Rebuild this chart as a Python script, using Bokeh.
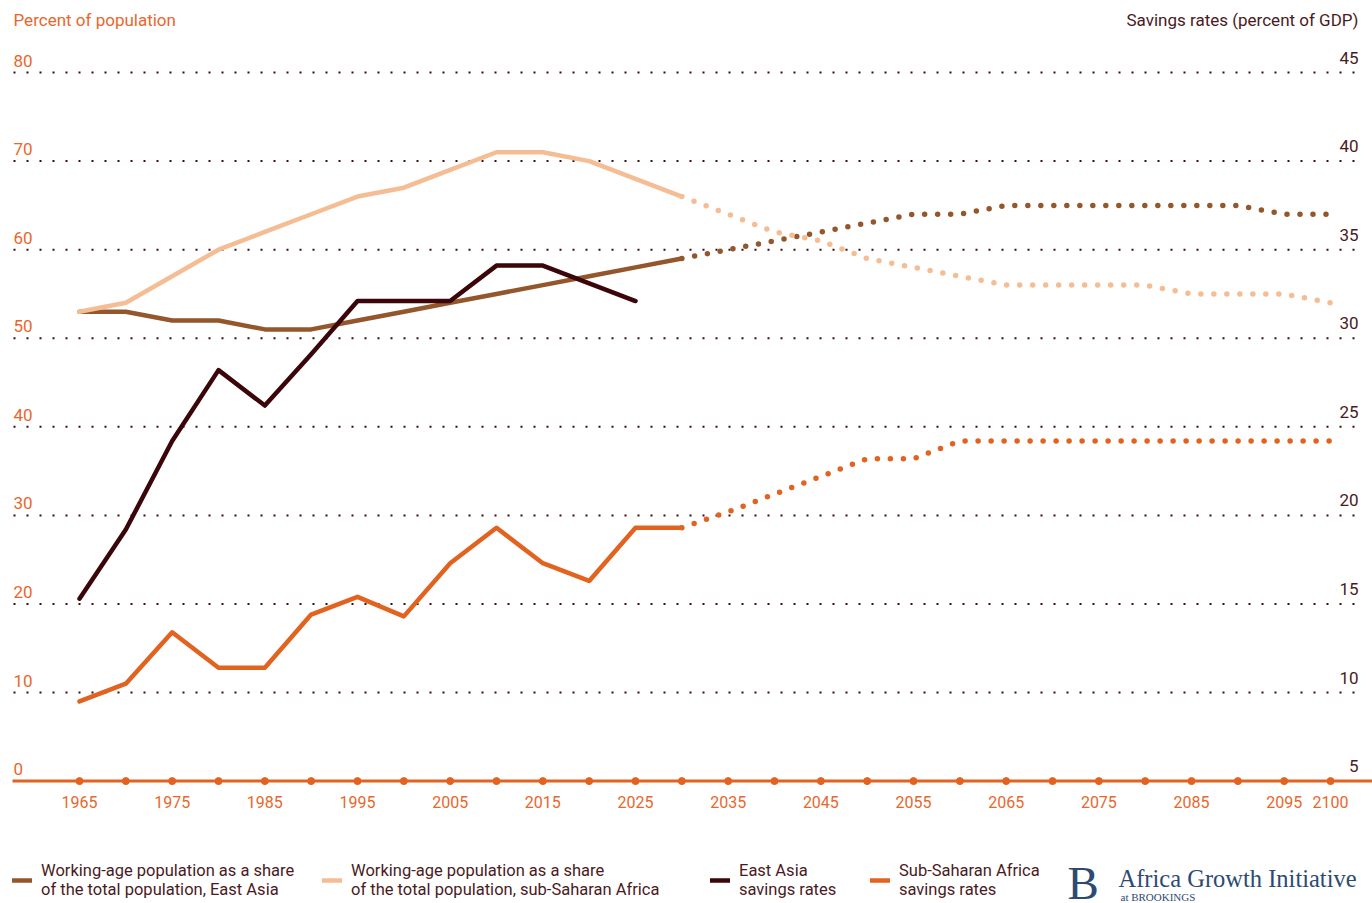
from bokeh.plotting import figure
from bokeh.models import (Range1d, Legend, LegendItem, Label)
from bokeh.core.properties import value
from bokeh.embed import file_html
from bokeh.resources import INLINE

# ---------------- data ----------------
years_hist = [1965, 1970, 1975, 1980, 1985, 1990, 1995, 2000, 2005, 2010, 2015, 2020, 2025, 2030]
ea_working_age = [53, 53, 52, 52, 51, 51, 52, 53, 54, 55, 56, 57, 58, 59]
ssa_working_age = [53, 54, 57, 60, 62, 64, 66, 67, 69, 71, 71, 70, 68, 66]
ssa_savings = [9.5, 10.5, 13.4, 11.4, 11.4, 14.4, 15.4, 14.3, 17.3, 19.3, 17.3, 16.3, 19.3, 19.3]

years_ea_savings = [1965, 1970, 1975, 1980, 1985, 1990, 1995, 2000, 2005, 2010, 2015, 2020, 2025]
ea_savings = [15.3, 19.2, 24.2, 28.2, 26.2, 29.1, 32.1, 32.1, 32.1, 34.1, 34.1, 33.1, 32.1]

years_proj = [2030, 2035, 2040, 2045, 2050, 2055, 2060, 2065, 2070, 2075, 2080, 2085, 2090, 2095, 2100]
ea_working_age_proj = [59, 60, 61, 62, 63, 64, 64, 65, 65, 65, 65, 65, 65, 64, 64]
ssa_working_age_proj = [66, 64, 62, 61, 59, 58, 57, 56, 56, 56, 56, 55, 55, 55, 54]
ssa_savings_proj = [19.3, 20.2, 21.2, 22.2, 23.2, 23.2, 24.2, 24.2, 24.2, 24.2, 24.2, 24.2, 24.2, 24.2, 24.2]

x_tick_labels = [1965, 1975, 1985, 1995, 2005, 2015, 2025, 2035, 2045, 2055, 2065, 2075, 2085, 2095, 2100]
x_tick_dots = list(range(1965, 2101, 5))
left_ticks = [0, 10, 20, 30, 40, 50, 60, 70, 80]
right_ticks = [5, 10, 15, 20, 25, 30, 35, 40, 45]

legend_labels = [
    "Working-age population as a share\nof the total population, East Asia",
    "Working-age population as a share\nof the total population, sub-Saharan Africa",
    "East Asia\nsavings rates",
    "Sub-Saharan Africa\nsavings rates",
]

# ---------------- styling ----------------
C_EA_WA = "#93572b"
C_SSA_WA = "#f5bd94"
C_EA_SAV = "#3b0609"
C_SSA_SAV = "#e2621f"
C_ORANGE_TXT = "#e8672c"
C_DARK_TXT = "#4a1a22"
C_GRID = "#3a0d12"
C_LOGO = "#2d4a70"
FONT = "Roboto"

W, H = 1372, 903
# page-pixel calibration of the scales
PX_PER_YEAR = 9.267
X_1965_PX = 79
PX_PER_UNIT = 8.857
Y_ZERO_PX = 780.6
X0 = 1965 - X_1965_PX / PX_PER_YEAR
X1 = 1965 + (W - X_1965_PX) / PX_PER_YEAR
Y0 = -(H - Y_ZERO_PX) / PX_PER_UNIT
Y1 = Y_ZERO_PX / PX_PER_UNIT

def px_x(px):
    return X0 + px / PX_PER_YEAR
def px_y(py):
    return Y1 - py / PX_PER_UNIT

p = figure(width=W, height=H, output_backend="svg", toolbar_location=None,
           x_range=Range1d(X0, X1), y_range=Range1d(Y0, Y1),
           min_border=0, min_border_left=0, min_border_right=0,
           min_border_top=0, min_border_bottom=0)
p.extra_y_ranges = {"sav": Range1d(Y0 / 2 + 5, Y1 / 2 + 5)}
p.outline_line_color = None
p.background_fill_color = "white"
p.border_fill_color = "white"
p.xaxis.visible = False
p.yaxis.visible = False
p.grid.visible = False

# dotted horizontal gridlines
grid_vals = left_ticks[1:]
p.segment(x0=[px_x(13)] * len(grid_vals), x1=[px_x(1356)] * len(grid_vals),
          y0=grid_vals, y1=grid_vals, line_color=C_GRID, line_width=2, line_dash="2 11")

# baseline axis line with dots
p.segment(x0=[px_x(12)], x1=[X1], y0=[0], y1=[0], line_color=C_SSA_SAV, line_width=3)
p.scatter(x=x_tick_dots, y=[0] * len(x_tick_dots), size=7, color=C_SSA_SAV)

# x tick labels
p.text(x=x_tick_labels, y=[0] * len(x_tick_labels), text=[str(t) for t in x_tick_labels],
       y_offset=21, text_font=value(FONT), text_font_size="16px", text_color=C_ORANGE_TXT,
       text_align="center", text_baseline="middle")

# y tick labels inside the plot
p.text(x=[X0] * len(left_ticks), y=left_ticks, text=[str(t) for t in left_ticks],
       x_offset=13, y_offset=-12, text_font=value(FONT), text_font_size="17px",
       text_color=C_ORANGE_TXT, text_align="left", text_baseline="alphabetic")
p.text(x=[X1] * len(right_ticks), y=right_ticks, text=[str(t) for t in right_ticks],
       y_range_name="sav", x_offset=-14, y_offset=-15, text_font=value(FONT),
       text_font_size="17px", text_color=C_DARK_TXT, text_align="right",
       text_baseline="alphabetic")

# series
r_ea_wa = p.line(years_hist, ea_working_age, line_color=C_EA_WA, line_width=4.5, line_cap="round", line_join="round")
r_ssa_wa = p.line(years_hist, ssa_working_age, line_color=C_SSA_WA, line_width=4.5, line_cap="round", line_join="round")
r_ea_sav = p.line(years_ea_savings, ea_savings, y_range_name="sav", line_color=C_EA_SAV, line_width=4.5, line_cap="round", line_join="round")
r_ssa_sav = p.line(years_hist, ssa_savings, y_range_name="sav", line_color=C_SSA_SAV, line_width=4.5, line_cap="round", line_join="round")

p.line(years_proj, ea_working_age_proj, line_color=C_EA_WA, line_width=5.5, line_dash="0 13", line_cap="round")
p.line(years_proj, ssa_working_age_proj, line_color=C_SSA_WA, line_width=5.5, line_dash="0 13", line_cap="round")
p.line(years_proj, ssa_savings_proj, y_range_name="sav", line_color=C_SSA_SAV, line_width=5.5, line_dash="0 13", line_cap="round")

# axis titles
p.add_layout(Label(x=px_x(13), y=px_y(19.5), text="Percent of population", text_font=FONT,
                   text_font_size="17px", text_color=C_ORANGE_TXT, text_baseline="alphabetic"))
p.add_layout(Label(x=px_x(1358), y=px_y(19.5), text="Savings rates (percent of GDP)", text_font=FONT,
                   text_font_size="17px", text_color=C_DARK_TXT, text_align="right",
                   text_baseline="alphabetic"))

# logo
p.add_layout(Label(x=px_x(1067), y=px_y(882), text="B", text_font="Liberation Serif",
                   text_font_size="47px", text_color=C_LOGO, text_baseline="alphabetic"))
p.add_layout(Label(x=px_x(1118), y=px_y(878), text="Africa Growth Initiative", text_font="Liberation Serif",
                   text_font_size="24.5px", text_color=C_LOGO, text_baseline="alphabetic"))
p.add_layout(Label(x=px_x(1120), y=px_y(896), text="at BROOKINGS", text_font="Liberation Serif",
                   text_font_size="11px", text_color=C_LOGO, text_baseline="alphabetic"))

# legend: one block per entry, placed like the reference
legend_renderers = [r_ea_wa, r_ssa_wa, r_ea_sav, r_ssa_sav]
legend_x = [12, 322, 710, 870]
for lab, rend, lx in zip(legend_labels, legend_renderers, legend_x):
    lg = Legend(items=[LegendItem(label=lab, renderers=[rend])], location=(lx, 4))
    lg.label_text_font = FONT
    lg.label_text_font_size = "16.5px"
    lg.label_text_line_height = 1.35
    lg.label_text_color = C_DARK_TXT
    lg.label_standoff = 9
    lg.glyph_width = 20
    lg.padding = 0
    lg.margin = 0
    lg.border_line_color = None
    lg.background_fill_alpha = 0
    p.add_layout(lg)

open("out.html", "w").write(file_html(p, INLINE))
